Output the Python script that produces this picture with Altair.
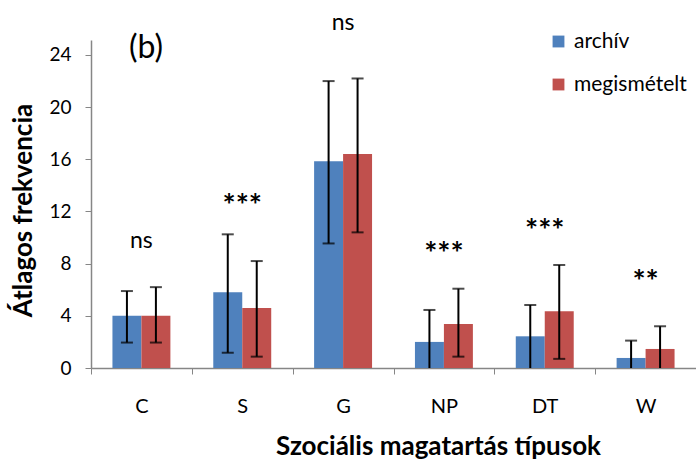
import altair as alt
import pandas as pd

categories = ["C", "S", "G", "NP", "DT", "W"]
series = ["archív", "megismételt"]
colors = ["#4F81BD", "#C0504D"]

archiv_mean = [4.0, 5.8, 15.85, 2.0, 2.43, 0.77]
archiv_lo = [1.95, 1.17, 9.55, 0.0, 0.0, 0.0]
archiv_hi = [5.9, 10.25, 22.0, 4.45, 4.83, 2.1]

megism_mean = [4.0, 4.6, 16.4, 3.37, 4.35, 1.46]
megism_lo = [1.95, 0.87, 10.4, 0.87, 0.7, 0.0]
megism_hi = [6.2, 8.2, 22.2, 6.08, 7.9, 3.2]

sig_labels = ["ns", "***", "ns", "***", "***", "**"]
sig_y = [9.2, 11.65, 25.9, 8.0, 9.75, 5.8]

y_ticks = [0, 4, 8, 12, 16, 20, 24]

rows = []
for i, c in enumerate(categories):
    rows.append(dict(cat=c, series=series[0], mean=archiv_mean[i], lo=archiv_lo[i], hi=archiv_hi[i]))
    rows.append(dict(cat=c, series=series[1], mean=megism_mean[i], lo=megism_lo[i], hi=megism_hi[i]))
df = pd.DataFrame(rows)
sig = pd.DataFrame(dict(cat=categories, lab=sig_labels, sy=sig_y))

FONT = "Lato"
GREY = "#868686"

xscale = alt.Scale(domain=categories, paddingInner=0, paddingOuter=0)
yscale = alt.Scale(domain=[0, 25.15], nice=False, zero=True)
xoff = alt.XOffset("series:N", scale=alt.Scale(domain=series, paddingOuter=0.74, paddingInner=0))

x_enc = alt.X("cat:N", scale=xscale, sort=categories,
              axis=alt.Axis(title="Szociális magatartás típusok", labelAngle=0, tickBand="extent",
                            tickSize=6, labelPadding=22, labelFontSize=20, labelFont=FONT,
                            labelColor="black", titleFont=FONT, titleFontSize=26, titleFontWeight="bold",
                            titleColor="black", titlePadding=17, titleX=347, titleAlign="center",
                            domainColor=GREY, tickColor=GREY, domainWidth=1.5, grid=False))
y_enc = alt.Y("mean:Q", scale=yscale,
              axis=alt.Axis(title="Átlagos frekvencia", values=y_ticks, tickSize=6, labelPadding=14,
                            labelFontSize=19, labelFont=FONT, labelColor="black",
                            titleFont=FONT, titleFontSize=26, titleFontWeight="bold", titleColor="black",
                            titlePadding=12, titleY=170, titleAlign="center",
                            domainColor=GREY, tickColor=GREY, domainWidth=1.5, grid=False))

base = alt.Chart(df)

bars = base.mark_bar().encode(
    x=x_enc, xOffset=xoff, y=y_enc,
    color=alt.Color("series:N", scale=alt.Scale(domain=series, range=colors),
                    legend=alt.Legend(title=None, orient="none", legendX=457, legendY=-9,
                                      symbolType="square", symbolSize=140, symbolStrokeWidth=0,
                                      labelFontSize=21, labelFont=FONT, labelColor="black",
                                      rowPadding=21, labelOffset=5)),
)

rules = base.mark_rule(color="black", strokeWidth=2).encode(
    x=alt.X("cat:N", scale=xscale, sort=categories), xOffset=xoff,
    y=alt.Y("lo:Q", scale=yscale), y2="hi:Q")

caps_hi = base.mark_tick(color="black", thickness=2, size=12).encode(
    x=alt.X("cat:N", scale=xscale, sort=categories), xOffset=xoff,
    y=alt.Y("hi:Q", scale=yscale))

caps_lo = base.transform_filter("datum.lo > 0").mark_tick(color="black", thickness=2, size=12).encode(
    x=alt.X("cat:N", scale=xscale, sort=categories), xOffset=xoff,
    y=alt.Y("lo:Q", scale=yscale))

sig_base = alt.Chart(sig)
sig_ns = sig_base.transform_filter("datum.lab == 'ns'").mark_text(
    font=FONT, fontSize=23, baseline="alphabetic", color="black").encode(
    x=alt.X("cat:N", scale=xscale, sort=categories),
    y=alt.Y("sy:Q", scale=yscale), text="lab:N")
sig_star = sig_base.transform_filter("datum.lab != 'ns'").mark_text(
    font=FONT, fontSize=31, fontWeight="bold", baseline="alphabetic", color="black").encode(
    x=alt.X("cat:N", scale=xscale, sort=categories),
    y=alt.Y("sy:Q", scale=yscale), text="lab:N")

panel = alt.Chart(pd.DataFrame({"t": ["(b)"]})).mark_text(
    font=FONT, fontSize=32, baseline="middle", align="center", color="black").encode(
    x=alt.value(55), y=alt.value(8), text="t:N")

chart = alt.layer(bars, rules, caps_hi, caps_lo, sig_ns, sig_star, panel).properties(
    width=605, height=328,
    autosize=alt.AutoSizeParams(type="none"),
    padding={"left": 91, "top": 40, "right": 0, "bottom": 92},
    background="white",
).configure_view(stroke=None)

chart.save("out.html", embed_options={"renderer": "svg", "actions": False})
